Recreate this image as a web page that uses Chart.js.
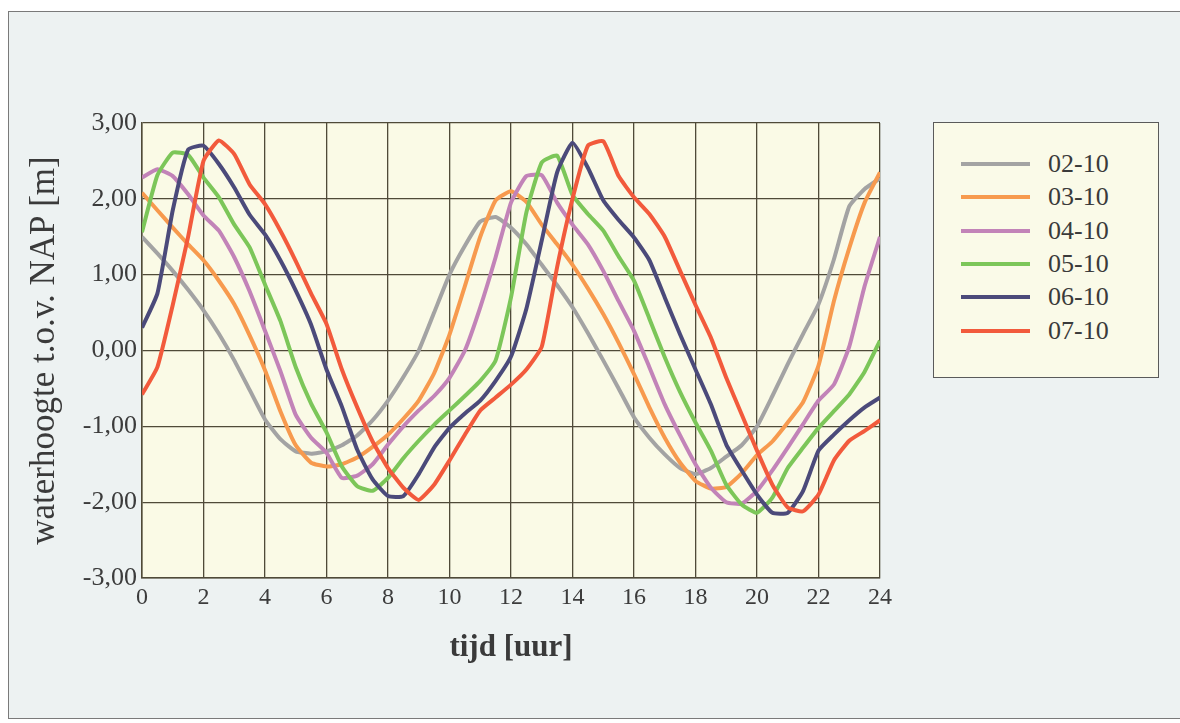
<!DOCTYPE html>
<html>
<head>
<meta charset="utf-8">
<script src="https://cdn.jsdelivr.net/npm/chart.js@4.4.0/dist/chart.umd.min.js"></script>
<style>
  body { margin: 0; background: #ffffff; }
  #frame {
    position: absolute; left: 8px; top: 11px; width: 1172px; height: 706px;
    background: #edf2f2; border: 1px solid #7a7a7a; border-right: none;
  }
  #wrap { position: absolute; left: 0; top: 0; width: 1180px; height: 723px; }
  #legend {
    position: absolute; left: 933px; top: 122px; width: 224px; height: 254px;
    border: 1px solid #5a5a5a; background: #fafae8;
    font-family: "Liberation Serif", serif; font-size: 26px; color: #3a3a3a;
  }
  .item { position: absolute; left: 27px; height: 26px; white-space: nowrap; }
  .item span.line { position: absolute; left: 0; top: 11px; width: 69px; height: 4px; }
  .item span.txt { position: absolute; left: 87px; top: 0; line-height: 26px; }
</style>
</head>
<body>
<div id="frame"></div>
<div id="wrap"><canvas id="chart" width="1180" height="723"></canvas></div>
<div id="legend"></div>
<script>
// uren (tijd), stap van een half uur
const uren = []
for (let i = 0; i <= 48; i++) uren.push(i / 2)

const reeksen = ['02-10', '03-10', '04-10', '05-10', '06-10', '07-10']
const kleuren = ['#a3a3a3', '#f79a4e', '#c283b8', '#7cc659', '#4b4a7a', '#f25a3c']

const w0210 = [1.50, 1.28, 1.05, 0.80, 0.53, 0.22, -0.13, -0.52, -0.91, -1.17, -1.33, -1.36, -1.33, -1.25, -1.12, -0.92, -0.66, -0.35, 0.00, 0.50, 1.00, 1.38, 1.70, 1.76, 1.62, 1.40, 1.13, 0.86, 0.57, 0.23, -0.13, -0.50, -0.88, -1.15, -1.37, -1.55, -1.63, -1.55, -1.40, -1.25, -1.00, -0.60, -0.18, 0.22, 0.61, 1.20, 1.90, 2.13, 2.27]
const w0310 = [2.08, 1.85, 1.62, 1.40, 1.19, 0.92, 0.61, 0.20, -0.26, -0.80, -1.25, -1.48, -1.53, -1.50, -1.41, -1.27, -1.11, -0.90, -0.66, -0.30, 0.21, 0.85, 1.50, 1.98, 2.10, 1.96, 1.66, 1.40, 1.13, 0.82, 0.48, 0.10, -0.31, -0.75, -1.15, -1.48, -1.72, -1.82, -1.80, -1.62, -1.38, -1.20, -0.95, -0.68, -0.20, 0.65, 1.35, 1.95, 2.35]
const w0410 = [2.28, 2.39, 2.30, 2.06, 1.78, 1.58, 1.23, 0.78, 0.26, -0.27, -0.85, -1.15, -1.35, -1.68, -1.65, -1.50, -1.24, -1.00, -0.79, -0.60, -0.36, 0.00, 0.57, 1.23, 1.95, 2.30, 2.31, 1.95, 1.66, 1.40, 1.05, 0.65, 0.26, -0.22, -0.71, -1.12, -1.50, -1.81, -2.00, -2.02, -1.85, -1.58, -1.28, -0.97, -0.66, -0.45, 0.05, 0.85, 1.50]
const w0510 = [1.56, 2.31, 2.61, 2.58, 2.28, 2.02, 1.66, 1.36, 0.87, 0.39, -0.22, -0.70, -1.08, -1.53, -1.79, -1.85, -1.68, -1.42, -1.19, -0.98, -0.79, -0.60, -0.40, -0.13, 0.70, 1.82, 2.48, 2.57, 2.05, 1.80, 1.58, 1.24, 0.92, 0.42, -0.09, -0.55, -0.95, -1.32, -1.77, -2.03, -2.14, -1.94, -1.55, -1.28, -1.02, -0.80, -0.58, -0.28, 0.13]
const w0610 = [0.30, 0.75, 1.85, 2.65, 2.70, 2.46, 2.15, 1.79, 1.53, 1.19, 0.79, 0.34, -0.25, -0.74, -1.31, -1.70, -1.92, -1.92, -1.63, -1.28, -1.02, -0.83, -0.66, -0.40, -0.08, 0.55, 1.45, 2.35, 2.74, 2.41, 1.98, 1.72, 1.49, 1.19, 0.70, 0.21, -0.25, -0.71, -1.24, -1.58, -1.90, -2.14, -2.14, -1.85, -1.32, -1.11, -0.92, -0.75, -0.62]
const w0710 = [-0.58, -0.22, 0.60, 1.50, 2.50, 2.77, 2.59, 2.19, 1.93, 1.58, 1.18, 0.75, 0.35, -0.25, -0.75, -1.20, -1.55, -1.81, -1.97, -1.77, -1.45, -1.11, -0.79, -0.62, -0.45, -0.25, 0.05, 1.10, 2.00, 2.70, 2.76, 2.30, 2.02, 1.80, 1.50, 1.05, 0.60, 0.17, -0.36, -0.84, -1.32, -1.77, -2.07, -2.12, -1.90, -1.45, -1.19, -1.06, -0.92]

const waarden = [w0210, w0310, w0410, w0510, w0610, w0710]

const xTicks = [0, 2, 4, 6, 8, 10, 12, 14, 16, 18, 20, 22, 24]
const yTicks = [-3, -2, -1, 0, 1, 2, 3]

const font = '"Liberation Serif", "Times New Roman", serif'
const rasterKleur = '#4f4a38'

// achtergrond van het plotvlak
const plotAchtergrond = {
  id: 'plotAchtergrond',
  beforeDraw: (chart) => {
    const a = chart.chartArea
    const c = chart.ctx
    c.save()
    c.fillStyle = '#fafae6'
    c.fillRect(a.left, a.top, a.right - a.left, a.bottom - a.top)
    c.restore()
  }
}

const datasets = reeksen.map((naam, i) => ({
  label: naam,
  data: uren.map((u, j) => ({ x: u, y: waarden[i][j] })),
  borderColor: kleuren[i],
  backgroundColor: kleuren[i],
  borderWidth: 4,
  pointRadius: 0,
  tension: 0.15,
  order: reeksen.length - i
}))

let ctx = document.getElementById('chart')
let chart = new Chart(ctx, {
  type: 'line',
  data: { datasets: datasets },
  options: {
    responsive: false,
    animation: false,
    layout: { padding: { left: 24, right: 300, top: 123, bottom: 52 } },
    plugins: { legend: { display: false }, tooltip: { enabled: false } },
    scales: {
      x: {
        type: 'linear', min: 0, max: 24,
        afterBuildTicks: (s) => { s.ticks = xTicks.map(v => ({ value: v })) },
        afterFit: (s) => { s.height = 93 },
        grid: { color: rasterKleur, lineWidth: 1.3, drawTicks: false },
        border: { color: rasterKleur, width: 1.5 },
        ticks: { font: { family: font, size: 24 }, color: '#3c3c3c', padding: 5, maxRotation: 0 },
        title: { display: true, text: 'tijd [uur]', font: { family: font, size: 31, weight: 'bold' }, color: '#3a3a3a', padding: { top: 10 } }
      },
      y: {
        min: -3, max: 3,
        afterBuildTicks: (s) => { s.ticks = yTicks.map(v => ({ value: v })) },
        afterFit: (s) => { s.width = 118 },
        grid: { color: rasterKleur, lineWidth: 1.3, drawTicks: false },
        border: { color: rasterKleur, width: 1.5 },
        ticks: {
          font: { family: font, size: 26 }, color: '#3c3c3c', padding: 5,
          callback: (v) => v.toFixed(2).replace('.', ',')
        },
        title: { display: true, text: 'waterhoogte t.o.v. NAP [m]', font: { family: font, size: 35 }, color: '#3a3a3a', padding: 0 }
      }
    }
  },
  plugins: [plotAchtergrond]
})

// legenda als html
const legenda = document.getElementById('legend')
reeksen.forEach((naam, i) => {
  const d = document.createElement('div')
  d.className = 'item'
  d.style.top = (28 + i * 33.3) + 'px'
  d.innerHTML = '<span class="line" style="background:' + kleuren[i] + '"></span><span class="txt">' + naam + '</span>'
  legenda.appendChild(d)
})
</script>
</body>
</html>
